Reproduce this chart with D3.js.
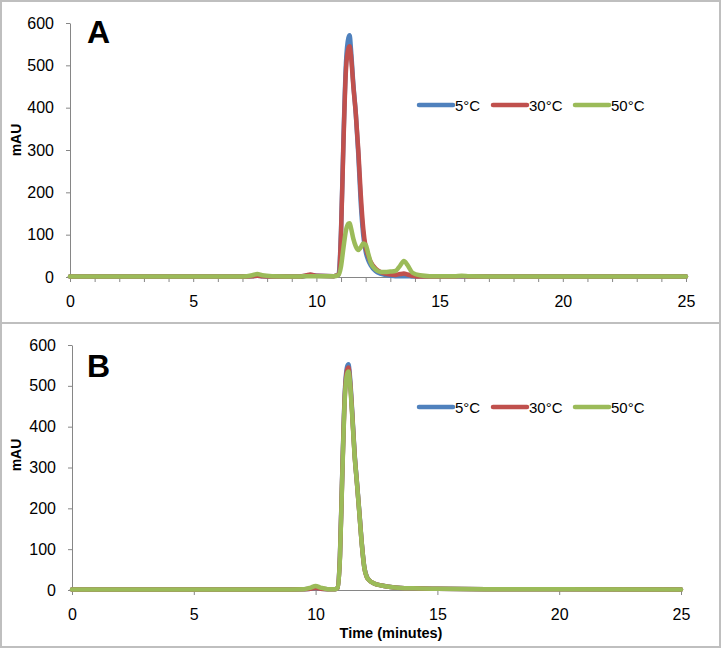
<!DOCTYPE html>
<html>
<head>
<meta charset="utf-8">
<script src="https://cdn.jsdelivr.net/npm/d3@7"></script>
<style>
  html, body { margin: 0; padding: 0; background: #fff; }
  svg { display: block; }
  text { font-family: "Liberation Sans", Arial, sans-serif; fill: #000; }
</style>
</head>
<body>
<svg id="chart" width="721" height="648"></svg>
<script>
// ---------------- DATA ----------------
const seriesNames = ["5°C", "30°C", "50°C"];
const xTicks = [0, 5, 10, 15, 20, 25];
const yTicks = [0, 100, 200, 300, 400, 500, 600];
const panelLabels = ["A", "B"];
const yLabel = "mAU";
const xLabel = "Time (minutes)";

// Panel A (time in minutes)
const timeA = [0, 7.0, 7.4, 7.6, 7.8, 8.2, 9.3, 9.6, 9.75, 10.0, 10.7, 10.9, 11.0, 11.1, 11.2, 11.3, 11.35, 11.4, 11.5, 11.6, 11.7, 11.8, 11.9, 12.0, 12.1, 12.2, 12.4, 12.6, 12.8, 13.0, 13.2, 13.4, 13.55, 13.7, 13.9, 14.2, 14.6, 15.6, 15.9, 16.2, 17.5, 25];
const a5C  = [1, 1, 2, 3, 2, 1, 1, 3, 5, 3, 2, 6, 110, 330, 505, 565, 571, 540, 455, 385, 290, 175, 100, 60, 40, 28, 14, 8, 5, 3, 2, 2, 2, 2, 1, 1, 1, 1, 1, 1, 1, 1];
const a30C = [1, 1, 2, 3, 2, 1, 1, 4, 6, 3, 2, 6, 105, 320, 490, 540, 545, 525, 450, 385, 300, 195, 115, 70, 50, 36, 20, 12, 8, 6, 5, 7, 8, 6, 3, 1, 1, 1, 2, 1, 1, 1];
const a50C = [1, 1, 4, 7, 4, 2, 1, 2, 2, 2, 2, 5, 25, 70, 110, 126, 127, 117, 90, 72, 64, 70, 79, 76, 56, 35, 18, 12, 12, 13, 14, 27, 38, 28, 10, 4, 2, 2, 3, 2, 1, 1];

// Panel B
const timeB = [0, 8.5, 9.5, 9.8, 10.0, 10.2, 10.5, 10.8, 10.9, 11.0, 11.1, 11.2, 11.3, 11.35, 11.4, 11.5, 11.6, 11.7, 11.8, 11.9, 12.0, 12.1, 12.2, 12.4, 12.7, 13.0, 13.5, 14.0, 15.0, 17.0, 20.0, 25];
const b5C  = [1, 1, 2, 3, 5, 3, 2, 2, 5, 85, 300, 485, 548, 553, 530, 440, 335, 262, 188, 112, 56, 33, 24, 16, 11, 8, 5, 4, 3, 2, 2, 1];
const b30C = [1, 1, 2, 3, 5, 3, 2, 2, 5, 83, 295, 478, 540, 545, 522, 435, 332, 260, 186, 111, 55, 32, 24, 16, 11, 8, 5, 4, 3, 2, 2, 1];
const b50C = [1, 1, 2, 6, 10, 6, 2, 2, 5, 80, 290, 470, 530, 535, 515, 430, 330, 260, 185, 110, 55, 32, 24, 16, 11, 8, 5, 4, 3, 2, 2, 1];

const colors = ["#4F81BD", "#C0504D", "#9BBB59"];

// ---------------- LAYOUT ----------------
const svg = d3.select("#chart");
const axisColor = "#868686";

// frame
svg.append("rect").attr("x", 1).attr("y", 1).attr("width", 719).attr("height", 646)
  .attr("fill", "none").attr("stroke", "#bfbfbf").attr("stroke-width", 2);
svg.append("line").attr("x1", 0).attr("x2", 721).attr("y1", 323).attr("y2", 323)
  .attr("stroke", "#bfbfbf").attr("stroke-width", 2);

const panels = [
  { label: panelLabels[0], time: timeA, series: [a5C, a30C, a50C],
    x0: 70, x1: 686, yTop: 23, yBot: 277, minor: true, legendY: 105, labelY: 43, yLabelY: 140, showXLabel: false },
  { label: panelLabels[1], time: timeB, series: [b5C, b30C, b50C],
    x0: 72, x1: 681, yTop: 345, yBot: 590, minor: false, legendY: 407, labelY: 377, yLabelY: 455, showXLabel: true }
];

panels.forEach(p => {
  const g = svg.append("g");
  const x = d3.scaleLinear().domain([0, 25]).range([p.x0, p.x1]);
  const y = d3.scaleLinear().domain([0, 600]).range([p.yBot, p.yTop]);

  // y axis
  const yAxis = g.append("g").attr("transform", `translate(${p.x0},0)`)
    .call(d3.axisLeft(y).tickValues(yTicks).tickSize(4).tickSizeOuter(0).tickPadding(12));
  yAxis.select(".domain").attr("stroke", axisColor);
  yAxis.selectAll(".tick line").attr("stroke", axisColor);
  yAxis.selectAll(".tick text").style("font-size", "16px").attr("fill", "#000");

  // minor x ticks
  if (p.minor) {
    const minorTicks = d3.range(0, 26).filter(v => v % 5 !== 0);
    g.append("g").attr("transform", `translate(0,${p.yBot})`)
      .call(d3.axisBottom(x).tickValues(minorTicks).tickSize(5).tickFormat(""))
      .call(s => s.select(".domain").remove())
      .selectAll(".tick line").attr("stroke", axisColor);
  }
  // x axis
  const xAxis = g.append("g").attr("transform", `translate(0,${p.yBot})`)
    .call(d3.axisBottom(x).tickValues(xTicks).tickSize(5).tickSizeOuter(0).tickPadding(14));
  xAxis.select(".domain").attr("stroke", axisColor);
  xAxis.selectAll(".tick line").attr("stroke", axisColor);
  xAxis.selectAll(".tick text").style("font-size", "16px").attr("fill", "#000");

  // lines
  const line = d3.line()
    .x((d, i) => x(p.time[i]))
    .y(d => y(d))
    .curve(d3.curveMonotoneX);
  p.series.forEach((s, k) => {
    g.append("path").datum(s)
      .attr("d", line)
      .attr("fill", "none")
      .attr("stroke", colors[k])
      .attr("stroke-width", 4.5)
      .attr("stroke-linejoin", "round")
      .attr("stroke-linecap", "round");
  });

  // panel label
  g.append("text").attr("x", 87).attr("y", p.labelY)
    .style("font-size", "32px").style("font-weight", "bold").text(p.label);

  // y label
  g.append("text")
    .attr("transform", `translate(21,${p.yLabelY}) rotate(-90)`)
    .attr("text-anchor", "middle")
    .style("font-size", "14px").style("font-weight", "bold").text(yLabel);

  // legend
  const legX = [419, 493, 575];
  seriesNames.forEach((n, k) => {
    g.append("line").attr("x1", legX[k]).attr("x2", legX[k] + 34)
      .attr("y1", p.legendY).attr("y2", p.legendY)
      .attr("stroke", colors[k]).attr("stroke-width", 4.5).attr("stroke-linecap", "round");
    g.append("text").attr("x", legX[k] + 36).attr("y", p.legendY + 5.5)
      .style("font-size", "15px").text(n);
  });

  if (p.showXLabel) {
    g.append("text").attr("x", 391).attr("y", 638).attr("text-anchor", "middle")
      .style("font-size", "14.5px").style("font-weight", "bold").text(xLabel);
  }
});
</script>
</body>
</html>
